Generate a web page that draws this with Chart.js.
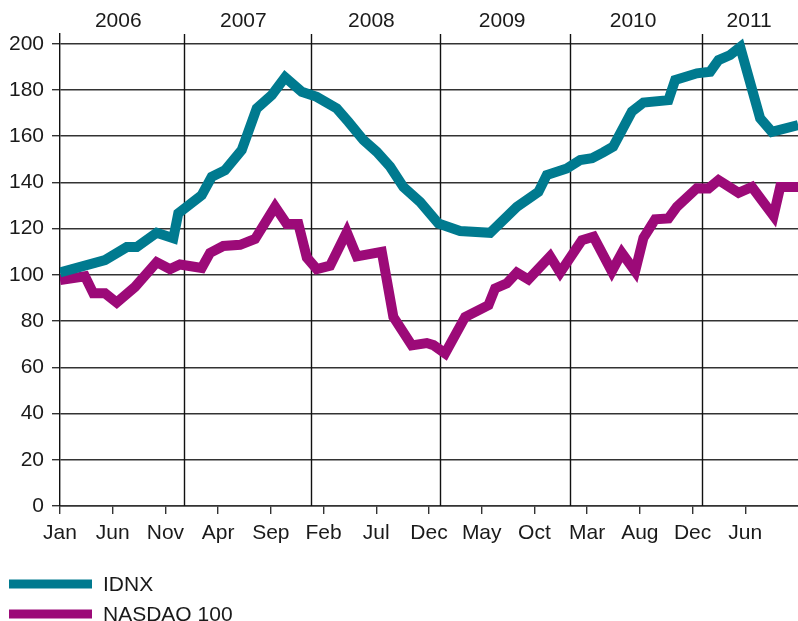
<!DOCTYPE html>
<html>
<head>
<meta charset="utf-8">
<script src="https://cdn.jsdelivr.net/npm/chart.js@4.4.1/dist/chart.umd.min.js"></script>
<style>
  html, body { margin: 0; padding: 0; background: #fff; }
  #wrap { position: relative; width: 798px; height: 621px; }
</style>
</head>
<body>
<div id="wrap"><canvas id="perfChart" width="798" height="621"></canvas></div>
<script>
// x values are months since Jan 2006
const idnxMonths = [0, 4.27, 6.33, 7.28, 9.17, 10.75, 11.22, 13.44, 14.39, 15.65, 17.24, 18.66, 20.09, 21.35,
  22.93, 24.35, 26.25, 27.35, 28.78, 30.05, 31.31, 32.57, 34.16, 35.89, 37.95, 40.8, 43.33, 45.38, 46.17,
  48.07, 49.34, 50.47, 51.52, 52.47, 54.24, 55.34, 57.71, 58.35, 60.41, 61.67, 62.46, 63.57, 64.52, 66.41,
  67.52, 70.02];
const idnxValues = [101, 106.4, 112, 112, 118.2, 115.8, 126.6, 134.5, 142.4, 145.3, 154, 172, 177.8, 185.5,
  179.2, 177, 172, 166.2, 158.3, 153.2, 146.8, 138, 131.5, 122.2, 119, 118.2, 129.4, 135.9, 143.2,
  146, 149.7, 150.5, 153, 155.5, 170.6, 174.5, 175.6, 184.3, 187.2, 187.9, 192.9, 195.1, 198.5, 167.7,
  161.9, 164.8];

const nasdaqMonths = [0, 2.37, 3.16, 4.27, 5.38, 7.12, 9.17, 10.44, 11.38, 13.44, 14.23, 15.49, 17.08, 18.5,
  20.4, 21.51, 22.61, 23.41, 24.35, 25.62, 27.2, 28.15, 30.52, 31.62, 33.37, 34.79, 35.42, 36.53, 38.43,
  40.64, 41.27, 42.38, 43.33, 44.43, 46.49, 47.44, 49.5, 50.6, 52.34, 53.29, 54.55, 55.34, 56.45, 57.71,
  58.51, 60.41, 61.52, 62.46, 64.36, 65.63, 67.68, 68.31, 70.02];
const nasdaqValues = [97.7, 99.4, 92, 92, 88, 94.8, 105.5, 102.5, 104.5, 103, 109.5, 112.5, 113, 115.5,
  129.5, 122, 122, 107.5, 102.5, 104, 118.5, 108, 110, 81.8, 69.5, 70.5, 69.6, 66, 81.8,
  86.9, 94.1, 96.3, 101, 98, 108, 101, 115, 116.5, 101.5, 109.5, 101.5, 116, 124, 124.4,
  129.4, 137.5, 137.4, 141, 135.5, 138, 125.5, 138, 138];

const tickMonths = [0, 5, 10, 15, 20, 25, 30, 35, 40, 45, 50, 55, 60, 65];
const tickLabels = ['Jan', 'Jun', 'Nov', 'Apr', 'Sep', 'Feb', 'Jul', 'Dec', 'May', 'Oct', 'Mar', 'Aug', 'Dec', 'Jun'];

const years = ['2006', '2007', '2008', '2009', '2010', '2011'];
const yearLabelMonths = [5.53, 17.39, 29.54, 41.94, 54.36, 65.37];
const yearBoundaries = [11.79, 23.84, 36.05, 48.39, 60.88];

const FONT = '"Liberation Sans", Arial, Helvetica, sans-serif';
const TEXT = '#1a1a1a';

function pairs(xs, ys) {
  return xs.map((x, i) => ({ x: x, y: ys[i] }));
}

// year separators and year labels along the top
const yearPlugin = {
  id: 'years',
  beforeDatasetsDraw(chart) {
    const { ctx, chartArea, scales } = chart;
    ctx.save();
    ctx.strokeStyle = '#111';
    ctx.lineWidth = 1.4;
    yearBoundaries.forEach(m => {
      const px = Math.round(scales.x.getPixelForValue(m)) + 0.5;
      ctx.beginPath();
      ctx.moveTo(px, chartArea.top);
      ctx.lineTo(px, chartArea.bottom);
      ctx.stroke();
    });
    ctx.restore();
  },
  afterDraw(chart) {
    const { ctx, scales } = chart;
    ctx.save();
    ctx.font = '21px ' + FONT;
    ctx.fillStyle = TEXT;
    ctx.textAlign = 'center';
    ctx.textBaseline = 'alphabetic';
    years.forEach((y, i) => {
      ctx.fillText(y, scales.x.getPixelForValue(yearLabelMonths[i]), 26.7);
    });
    ctx.restore();
  }
};

// legend: stacked swatches at bottom left
const legendPlugin = {
  id: 'stackLegend',
  afterDraw(chart) {
    const ctx = chart.ctx;
    ctx.save();
    ctx.font = '21px ' + FONT;
    ctx.textBaseline = 'middle';
    ctx.textAlign = 'left';
    chart.data.datasets.forEach((ds, i) => {
      const cy = 584 + i * 30;
      ctx.fillStyle = ds.borderColor;
      ctx.fillRect(9, cy - 4.5, 83, 9);
      ctx.fillStyle = TEXT;
      ctx.fillText(ds.label, 103, cy + 1);
    });
    ctx.restore();
  }
};

const ctx = document.getElementById('perfChart').getContext('2d');
const perfChart = new Chart(ctx, {
  type: 'line',
  data: {
    datasets: [{
      label: 'IDNX',
      data: pairs(idnxMonths, idnxValues),
      borderColor: '#007a8f',
      borderWidth: 10,
      pointRadius: 0,
      tension: 0,
      borderJoinStyle: 'miter',
      borderCapStyle: 'butt'
    }, {
      label: 'NASDAQ 100',
      data: pairs(nasdaqMonths, nasdaqValues),
      borderColor: '#9c0a78',
      borderWidth: 10,
      pointRadius: 0,
      tension: 0,
      borderJoinStyle: 'miter',
      borderCapStyle: 'butt'
    }]
  },
  options: {
    responsive: false,
    animation: false,
    layout: { padding: { top: 34, right: 0, bottom: 0, left: 0 } },
    plugins: {
      legend: { display: false },
      tooltip: { enabled: false }
    },
    scales: {
      x: {
        type: 'linear',
        min: 0,
        max: 70,
        afterFit(scale) { scale.height = 115; },
        afterBuildTicks(scale) {
          scale.ticks = tickMonths.map(v => ({ value: v }));
        },
        ticks: {
          autoSkip: false,
          maxRotation: 0,
          padding: 7,
          color: TEXT,
          font: { family: FONT, size: 21 },
          callback(value) {
            const i = tickMonths.indexOf(value);
            return i >= 0 ? tickLabels[i] : '';
          }
        },
        grid: { drawOnChartArea: false, drawTicks: true, tickLength: 8, color: '#333', lineWidth: 1.4 },
        border: { display: true, color: '#333', width: 1.4 }
      },
      y: {
        min: 0,
        max: 204.2,
        afterFit(scale) { scale.width = 60; },
        ticks: {
          stepSize: 20,
          includeBounds: false,
          padding: 8,
          color: TEXT,
          font: { family: FONT, size: 21 }
        },
        grid: { color: '#333', lineWidth: 1.4, tickLength: 8 },
        border: { display: true, color: '#111', width: 1.4 }
      }
    }
  },
  plugins: [yearPlugin, legendPlugin]
});
</script>
</body>
</html>
